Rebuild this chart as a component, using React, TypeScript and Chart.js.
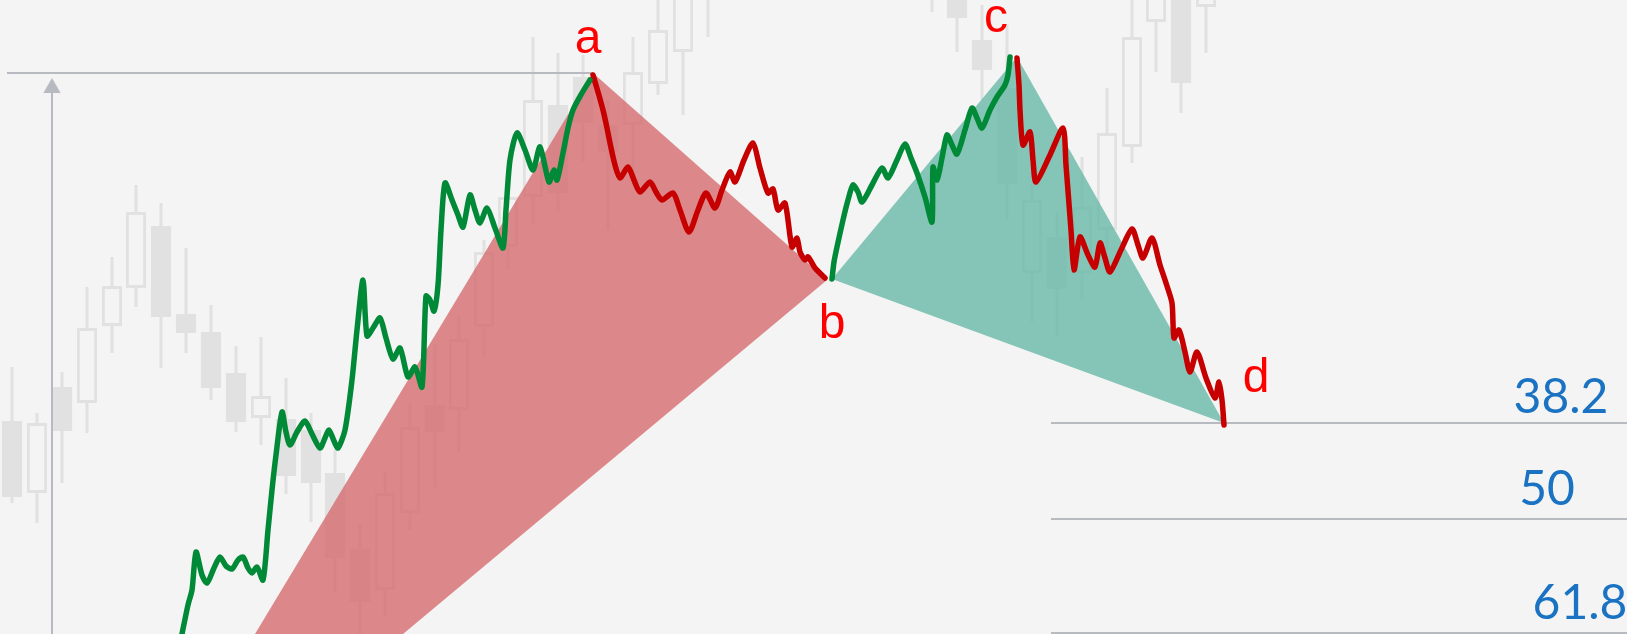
import React, { useEffect, useRef } from 'react';
import { Chart, registerables } from 'chart.js';

Chart.register(...registerables);

// ---- background candles (x position, wick top, body top, body bottom, wick bottom; y axis grows downward) ----
const candleX = [12, 37, 62, 87, 112, 136, 161, 186, 211, 236, 261, 286, 311, 335, 360, 385, 410, 435, 459, 484, 508, 533, 558, 583, 608, 633, 658, 683, 708, 932, 957, 982, 1007, 1032, 1057, 1082, 1107, 1132, 1156, 1181, 1206];
const candleWickTop = [367, 413, 372, 287, 257, 185, 203, 248, 305, 346, 337, 378, 413, 450, 523, 471, 403, 345, 315, 240, 185, 37, 53, 55, 100, 37, -10, -30, -60, -60, -40, 5, 25, 185, 212, 157, 88, -5, -30, -30, -30];
const candleBodyTop = [421, 423, 387, 328, 286, 212, 226, 314, 332, 373, 396, 419, 430, 473, 549, 493, 427, 405, 339, 252, 197, 100, 105, 77, 125, 72, 30, -10, -40, -40, -20, 40, 88, 200, 237, 207, 133, 37, -15, -10, -15];
const candleBodyBottom = [497, 493, 431, 403, 326, 288, 317, 333, 388, 422, 418, 476, 483, 558, 602, 590, 513, 432, 410, 327, 247, 197, 193, 123, 152, 125, 84, 52, -10, -15, 18, 70, 184, 273, 289, 273, 230, 147, 22, 83, 7];
const candleWickBottom = [503, 523, 483, 433, 353, 307, 368, 353, 400, 432, 445, 494, 522, 593, 650, 617, 530, 487, 452, 356, 270, 225, 212, 162, 230, 182, 95, 115, 37, 12, 52, 100, 220, 322, 337, 300, 250, 163, 72, 113, 53];
const candleHollow = [false, true, false, true, true, true, false, false, false, false, true, false, false, false, false, true, true, false, true, true, true, true, false, false, false, true, true, true, false, false, false, false, false, true, false, true, true, true, true, false, true];

// ---- price path legs ----
const legUpToA: [number, number][] = [
  [182, 634], [188, 605], [192, 590], [196, 552], [202, 575], [207, 583], [214, 568], [220, 557], [226, 566], [232, 569],
  [238, 560], [243, 557], [248, 568], [252, 573], [257, 567], [263, 580], [268, 530], [272, 490], [276, 455], [282, 412],
  [286, 432], [290, 445], [297, 432], [305, 421], [312, 434], [320, 448], [325, 438], [329, 430], [334, 441], [338, 448],
  [345, 430], [352, 380], [357, 330], [363, 280], [367, 336], [373, 328], [380, 318], [386, 338], [393, 359], [400, 348],
  [408, 377], [415, 367], [422, 387], [426, 296], [430, 300], [434, 311], [438, 285], [441, 230], [445, 183], [452, 200],
  [458, 215], [463, 227], [470, 195], [475, 210], [480, 223], [487, 208], [495, 228], [503, 248], [506, 210], [510, 160],
  [517, 133], [525, 150], [533, 170], [540, 147], [549, 182], [554, 170], [557, 180], [563, 153], [568, 128], [573, 110],
  [582, 93], [590, 80],
];
const legAtoB: [number, number][] = [
  [593, 75], [598, 92], [603, 110], [607, 128], [610, 143], [615, 165], [620, 178], [628, 167], [634, 180], [640, 192],
  [650, 182], [656, 192], [662, 200], [673, 193], [680, 210], [689, 232], [698, 210], [706, 193], [715, 208], [722, 190],
  [730, 172], [735, 182], [744, 160], [753, 143], [760, 168], [768, 193], [773, 189], [778, 210], [785, 203], [792, 247],
  [797, 238], [800, 252], [805, 260], [808, 257], [815, 268], [825, 278],
];
const legBtoC: [number, number][] = [
  [832, 279], [834, 262], [837, 247], [843, 220], [848, 200], [853, 185], [858, 192], [862, 202], [872, 185], [882, 168],
  [888, 178], [897, 160], [905, 144], [911, 158], [917, 173], [925, 197], [932, 222], [933, 167], [937, 180], [942, 158],
  [947, 135], [952, 145], [957, 154], [965, 130], [972, 108], [977, 118], [982, 128], [990, 110], [997, 97], [1005, 85],
  [1008, 75], [1010, 57],
];
const legCtoD: [number, number][] = [
  [1017, 58], [1019, 85], [1020, 110], [1023, 145], [1030, 132], [1033, 160], [1036, 182], [1050, 155], [1063, 128], [1066, 165],
  [1071, 230], [1074, 270], [1080, 237], [1088, 255], [1095, 267], [1100, 243], [1105, 258], [1110, 272], [1121, 250], [1132, 229],
  [1138, 245], [1143, 258], [1152, 238], [1160, 265], [1166, 283], [1172, 303], [1174, 338], [1179, 330], [1185, 352], [1190, 372],
  [1197, 352], [1206, 378], [1215, 398], [1219, 382], [1222, 400], [1224, 425],
];

// ---- pattern pivots and shaded areas ----
const pivotNames = ['a', 'b', 'c', 'd'];
const pivotX = [593, 829, 1017, 1224];
const pivotY = [73, 279, 57, 423];
const redShape: [number, number][] = [[255, 634], [593, 73], [827, 280], [403, 634]];
const greenShape: [number, number][] = [[832, 279], [1017, 57], [1224, 423]];

// ---- guide lines ----
const topLevelLine: [number, number][] = [[7, 73], [593, 73]];
const arrowShaft: [number, number][] = [[52, 640], [52, 92]];
const arrowTip: [number, number][] = [[52, 88]];

// ---- retracement levels ----
const fibLabels = ['38.2', '50', '61.8'];
const fibLevels = [423, 519, 633];
const fibStartX = 1051;
const fibEndX = 1627;

const pts = (arr: [number, number][]) => arr.map(([x, y]) => ({ x, y }));

const BG = '#f4f4f4';
const CANDLE = '#e1e1e1';
const GREEN = '#008937';
const RED = '#c60000';
const GUIDE = '#b7bbc1';

const labelOffsets: [number, number][] = [[-5, -20], [3, 59], [-21, -25], [32, -31]];
const fibLabelX = [1561, 1547, 1580];
const fibLabelDy = [-10, -14, -14];

const labelPlugin = {
  id: 'patternLabels',
  afterDatasetsDraw(chart: any) {
    const { ctx, scales } = chart;
    const xs = scales.x;
    const ys = scales.y;
    ctx.save();
    ctx.textAlign = 'center';
    ctx.textBaseline = 'alphabetic';
    ctx.font = '48px "Liberation Sans", Arial, sans-serif';
    ctx.fillStyle = '#ff0000';
    pivotNames.forEach((n, i) => {
      ctx.fillText(n, xs.getPixelForValue(pivotX[i]) + labelOffsets[i][0], ys.getPixelForValue(pivotY[i]) + labelOffsets[i][1]);
    });
    ctx.font = '48px Lato, "Open Sans", sans-serif';
    ctx.fillStyle = '#1a72c2';
    fibLabels.forEach((t, i) => {
      ctx.fillText(t, xs.getPixelForValue(fibLabelX[i]), ys.getPixelForValue(fibLevels[i]) + fibLabelDy[i]);
    });
    ctx.restore();
  },
};

export default function App() {
  const ref = useRef<HTMLCanvasElement | null>(null);

  useEffect(() => {
    document.body.style.margin = '0';
    document.body.style.background = BG;
    if (!ref.current) return;
    const wicks = candleX.map((x, i) => ({ x, y: [candleWickTop[i], candleWickBottom[i]] }));
    const filledBodies = candleX
      .map((x, i) => ({ x, y: [candleBodyTop[i], candleBodyBottom[i]], h: candleHollow[i] }))
      .filter((d) => !d.h)
      .map(({ x, y }) => ({ x, y }));
    const hollowBodies = candleX
      .map((x, i) => ({ x, y: [candleBodyTop[i], candleBodyBottom[i]], h: candleHollow[i] }))
      .filter((d) => d.h)
      .map(({ x, y }) => ({ x, y }));

    const priceLine = (data: [number, number][], color: string) => ({
      type: 'line' as const,
      data: pts(data),
      borderColor: color,
      borderWidth: 5.5,
      tension: 0.25,
      pointRadius: 0,
      borderCapStyle: 'round',
      borderJoinStyle: 'round',
      fill: false,
      order: 10,
    });
    const guide = (data: [number, number][]) => ({
      type: 'line' as const,
      data: pts(data),
      borderColor: GUIDE,
      borderWidth: 2,
      tension: 0,
      pointRadius: 0,
      fill: false,
      order: 40,
    });

    const chart = new Chart(ref.current, {
      type: 'bar',
      data: {
        datasets: [
          {
            type: 'bar',
            data: wicks as any,
            backgroundColor: CANDLE,
            borderWidth: 0,
            grouped: false,
            barPercentage: 0.125,
            categoryPercentage: 1,
            order: 100,
          },
          {
            type: 'bar',
            data: filledBodies as any,
            backgroundColor: CANDLE,
            borderWidth: 0,
            grouped: false,
            barPercentage: 0.84,
            categoryPercentage: 1,
            order: 90,
          },
          {
            type: 'bar',
            data: hollowBodies as any,
            backgroundColor: BG,
            borderColor: CANDLE,
            borderWidth: 3,
            borderSkipped: false,
            grouped: false,
            barPercentage: 0.84,
            categoryPercentage: 1,
            order: 90,
          },
          {
            type: 'line',
            data: pts(redShape),
            borderWidth: 0,
            borderColor: 'rgba(0,0,0,0)',
            backgroundColor: 'rgba(214,108,111,0.8)',
            fill: 'shape',
            tension: 0,
            pointRadius: 0,
            order: 50,
          },
          {
            type: 'line',
            data: pts(greenShape),
            borderWidth: 0,
            borderColor: 'rgba(0,0,0,0)',
            backgroundColor: 'rgba(105,185,168,0.8)',
            fill: 'shape',
            tension: 0,
            pointRadius: 0,
            order: 50,
          },
          guide(topLevelLine),
          guide(arrowShaft),
          {
            type: 'line',
            data: pts(arrowTip),
            showLine: false,
            pointStyle: 'triangle',
            pointRadius: 10,
            pointBackgroundColor: GUIDE,
            pointBorderWidth: 0,
            order: 40,
          },
          ...fibLevels.map((lv) => guide([[fibStartX, lv], [fibEndX, lv]])),
          priceLine(legUpToA, GREEN),
          priceLine(legAtoB, RED),
          priceLine(legBtoC, GREEN),
          priceLine(legCtoD, RED),
        ] as any,
      },
      options: {
        animation: false,
        responsive: true,
        maintainAspectRatio: false,
        events: [],
        layout: { padding: 0, autoPadding: false },
        plugins: { legend: { display: false }, tooltip: { enabled: false } },
        scales: {
          x: { type: 'linear', min: 0, max: 1627, offset: false, display: false, ticks: { maxTicksLimit: 5 } },
          y: { type: 'linear', min: 0, max: 634, reverse: true, display: false },
        },
      },
      plugins: [labelPlugin],
    });
    return () => chart.destroy();
  }, []);

  return (
    <div style={{ position: 'absolute', left: 0, top: 0, width: '1627px', height: '634px', background: BG }}>
      <canvas ref={ref} />
    </div>
  );
}
